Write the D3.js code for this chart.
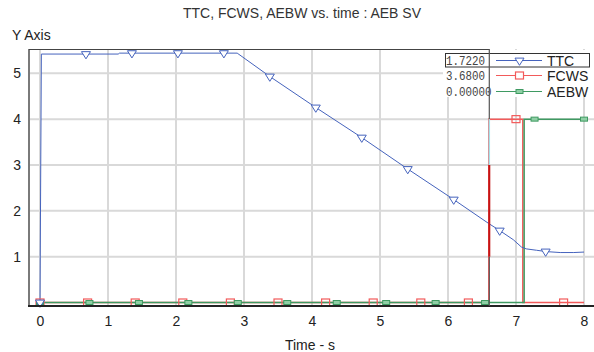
<!DOCTYPE html>
<html>
<head>
<meta charset="utf-8">
<script src="https://cdn.jsdelivr.net/npm/d3@7"></script>
<style>
  body { margin: 0; background: #fff; }
  svg { display: block; font-family: "Liberation Sans", Arial, sans-serif; }
</style>
</head>
<body>
<svg id="chart" width="594" height="352"></svg>
<script>
// ---- data ----
const timeTicks = [0, 1, 2, 3, 4, 5, 6, 7, 8];
const valueTicks = [1, 2, 3, 4, 5];

const ttcTime  = [0, 0.02, 1.15, 1.17, 2.90, 3.38, 4.05, 4.73, 5.40, 6.07, 6.60, 6.75, 6.96, 7.08, 7.15, 7.30, 7.45, 7.65, 7.85, 8.00];
const ttcValue = [0, 5.42, 5.42, 5.44, 5.44, 4.93, 4.26, 3.60, 2.92, 2.26, 1.722, 1.58, 1.37, 1.21, 1.17, 1.14, 1.11, 1.09, 1.09, 1.10];
const ttcMarkerTime = [0, 0.676, 1.352, 2.028, 2.704, 3.38, 4.056, 4.732, 5.408, 6.084, 6.76, 7.436];

const fcwsTime  = [0, 6.6, 6.6, 7.1, 7.1, 8];
const fcwsValue = [0, 0, 4, 4, 0, 0];
const fcwsMarkerTime = [0, 0.7, 1.4, 2.1, 2.8, 3.5, 4.2, 4.9, 5.6, 6.3, 7.0, 7.7];

const aebwTime  = [0, 7.12, 7.12, 8];
const aebwValue = [0, 0, 4, 4];
const aebwMarkerTime = [0, 0.727, 1.455, 2.182, 2.909, 3.636, 4.364, 5.091, 5.818, 6.545, 7.273, 8.0];

const seriesNames = ["TTC", "FCWS", "AEBW"];
const cursorTime = 6.6;
const cursorReadout = ["1.7220", "3.6800", "0.00000"];

const titleText = "TTC, FCWS, AEBW vs. time : AEB SV";
const yTitle = "Y Axis";
const xTitle = "Time - s";

// ---- layout ----
const svg = d3.select("#chart");
const plot = { left: 29, right: 594, top: 49, bottom: 306 };

const x = d3.scaleLinear().domain([0, 8]).range([40, 584]);
const y = d3.scaleLinear().domain([0, 5]).range([302.5, 73.3]);

const colors = { ttc: "#4563bd", fcws: "#f25a5a", aebw: "#3f9a62" };

svg.append("defs").append("clipPath").attr("id", "plotClip")
  .append("rect")
  .attr("x", plot.left).attr("y", plot.top)
  .attr("width", plot.right - plot.left).attr("height", plot.bottom - plot.top);

// gridlines
const grid = svg.append("g");
grid.selectAll("line.vg").data(timeTicks).join("line")
  .attr("x1", d => x(d)).attr("x2", d => x(d))
  .attr("y1", plot.top).attr("y2", plot.bottom)
  .attr("stroke", "#d9d9d9").attr("stroke-width", 2);
grid.selectAll("line.hg").data(valueTicks).join("line")
  .attr("x1", plot.left).attr("x2", plot.right)
  .attr("y1", d => y(d)).attr("y2", d => y(d))
  .attr("stroke", "#d9d9d9").attr("stroke-width", 2);

// axis tick labels via d3 axes
const xAxis = svg.append("g")
  .attr("transform", `translate(0,${plot.bottom})`)
  .call(d3.axisBottom(x).tickValues(timeTicks).tickSize(0).tickPadding(10).tickFormat(d3.format("d")));
xAxis.select(".domain").remove();
xAxis.selectAll("text").attr("font-size", 14).attr("fill", "#222")
  .attr("font-family", "Liberation Sans, Arial, sans-serif");

const yAxis = svg.append("g")
  .attr("transform", `translate(${plot.left},0)`)
  .call(d3.axisLeft(y).tickValues(valueTicks).tickSize(0).tickPadding(8).tickFormat(d3.format("d")));
yAxis.select(".domain").remove();
yAxis.selectAll("text").attr("font-size", 14).attr("fill", "#222")
  .attr("font-family", "Liberation Sans, Arial, sans-serif");

// helpers
const pairs = (ts, vs) => ts.map((t, i) => [t, vs[i]]);
function valueAt(ts, vs, t) {
  const i = d3.bisectRight(ts, t) - 1;
  if (i >= ts.length - 1) return vs[vs.length - 1];
  if (i < 0) return vs[0];
  const t0 = ts[i], t1 = ts[i + 1];
  if (t1 === t0) return vs[i + 1];
  return vs[i] + (vs[i + 1] - vs[i]) * (t - t0) / (t1 - t0);
}
const line = d3.line().x(d => x(d[0])).y(d => y(d[1]));

// series lines
const lines = svg.append("g").attr("clip-path", "url(#plotClip)");
lines.append("path").datum(pairs(fcwsTime, fcwsValue))
  .attr("d", line).attr("fill", "none").attr("stroke", colors.fcws).attr("stroke-width", 1.5);
lines.append("path").datum(pairs(aebwTime, aebwValue))
  .attr("d", line).attr("fill", "none").attr("stroke", colors.aebw).attr("stroke-width", 1.5);
lines.append("path").datum(pairs(ttcTime, ttcValue))
  .attr("d", line).attr("fill", "none").attr("stroke", colors.ttc).attr("stroke-width", 1);

// markers
const triangle = (cx, cy) => `M${cx - 4.5},${cy - 2.4}L${cx + 4.5},${cy - 2.4}L${cx},${cy + 4.8}Z`;
const marks = svg.append("g");
marks.selectAll("rect.fc").data(fcwsMarkerTime).join("rect")
  .attr("x", d => x(d) - 4).attr("y", d => y(valueAt(fcwsTime, fcwsValue, d)) - 3.5)
  .attr("width", 8).attr("height", 7)
  .attr("fill", "none").attr("stroke", colors.fcws).attr("stroke-width", 1.2);
marks.selectAll("rect.ae").data(aebwMarkerTime).join("rect")
  .attr("x", d => x(d) - 3.5).attr("y", d => y(valueAt(aebwTime, aebwValue, d)) - 2)
  .attr("width", 7).attr("height", 4)
  .attr("fill", "#8fcfa5").attr("stroke", colors.aebw).attr("stroke-width", 1);
marks.selectAll("path.ttc").data(ttcMarkerTime).join("path")
  .attr("d", d => triangle(x(d), y(valueAt(ttcTime, ttcValue, d))))
  .attr("fill", "#fff").attr("stroke", colors.ttc).attr("stroke-width", 1);

// axis frame
svg.append("line").attr("x1", plot.left).attr("x2", plot.left)
  .attr("y1", plot.top).attr("y2", plot.bottom)
  .attr("stroke", "#7a7a7a").attr("stroke-width", 2);
svg.append("line").attr("x1", plot.left - 1).attr("x2", plot.right)
  .attr("y1", plot.bottom).attr("y2", plot.bottom)
  .attr("stroke", "#222").attr("stroke-width", 2);

// legend panel
const cx = x(cursorTime);
const legend = svg.append("g");
legend.append("rect").attr("x", 443).attr("y", plot.top + 1)
  .attr("width", plot.right - 443).attr("height", 47).attr("fill", "#fff");
svg.append("line").attr("x1", plot.left).attr("x2", cx + 0.5)
  .attr("y1", plot.top + 0.5).attr("y2", plot.top + 0.5)
  .attr("stroke", "#444").attr("stroke-width", 1);

// cursor line
const cursorSegments = [
  { from: plot.top, to: y(4), color: "#555", w: 1.2 },
  { from: y(4), to: y(3), color: "#a8e2ea", w: 1.5 },
  { from: y(3), to: y(1), color: "#c41414", w: 2 },
  { from: y(1), to: plot.bottom, color: "#555", w: 1.2 }
];
svg.append("g").selectAll("line").data(cursorSegments).join("line")
  .attr("x1", cx + 0.5).attr("x2", cx + 0.5)
  .attr("y1", d => d.from).attr("y2", d => d.to)
  .attr("stroke", d => d.color).attr("stroke-width", d => d.w);

// legend rows
const rowY = [60.5, 75.5, 91.5];
const seriesColor = [colors.ttc, colors.fcws, colors.aebw];
legend.append("rect").attr("x", 445.5).attr("y", 53.5).attr("width", 144).attr("height", 13.5)
  .attr("fill", "none").attr("stroke", "#333").attr("stroke-width", 1);
legend.selectAll("text.val").data(cursorReadout).join("text")
  .attr("x", 446).attr("y", (d, i) => rowY[i] + 4.6)
  .attr("font-family", "Liberation Mono, DejaVu Sans Mono, monospace")
  .attr("font-size", 13).attr("fill", "#444")
  .attr("textLength", d => d.length * 6.5).attr("lengthAdjust", "spacingAndGlyphs")
  .text(d => d);
legend.selectAll("line.ls").data(seriesNames).join("line")
  .attr("x1", 496).attr("x2", 542)
  .attr("y1", (d, i) => rowY[i]).attr("y2", (d, i) => rowY[i])
  .attr("stroke", (d, i) => seriesColor[i]).attr("stroke-width", 1.2);
legend.append("path").attr("d", triangle(519.5, rowY[0]))
  .attr("fill", "#fff").attr("stroke", colors.ttc);
legend.append("rect").attr("x", 515.5).attr("y", rowY[1] - 3.5).attr("width", 8).attr("height", 7)
  .attr("fill", "#fff").attr("stroke", colors.fcws).attr("stroke-width", 1.2);
legend.append("rect").attr("x", 516).attr("y", rowY[2] - 2).attr("width", 7).attr("height", 4)
  .attr("fill", "#8fcfa5").attr("stroke", colors.aebw);
legend.selectAll("text.nm").data(seriesNames).join("text")
  .attr("x", 547).attr("y", (d, i) => rowY[i] + 5)
  .attr("font-size", 14).attr("fill", "#222")
  .text(d => d);

// titles
svg.append("text").attr("x", 302).attr("y", 17.5).attr("text-anchor", "middle")
  .attr("font-size", 14).attr("fill", "#333").text(titleText);
svg.append("text").attr("x", 12).attr("y", 39.5)
  .attr("font-size", 14).attr("fill", "#222").text(yTitle);
svg.append("text").attr("x", 310).attr("y", 350).attr("text-anchor", "middle")
  .attr("font-size", 14).attr("fill", "#222").text(xTitle);
</script>
</body>
</html>
